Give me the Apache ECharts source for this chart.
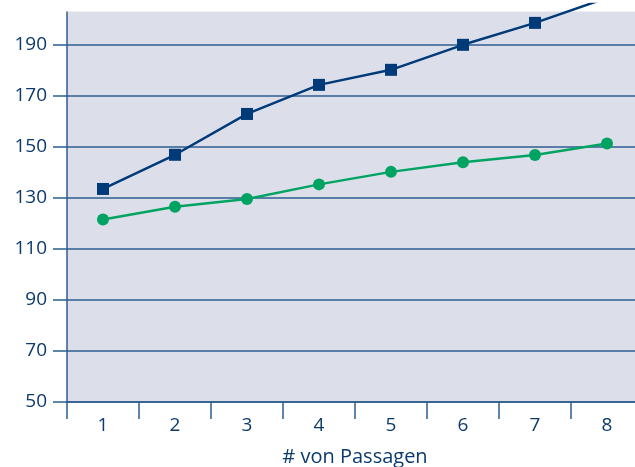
<!DOCTYPE html>
<html><head><meta charset="utf-8">
<script src="https://cdn.jsdelivr.net/npm/echarts@6/dist/echarts.min.js"></script>
<style>html,body{margin:0;padding:0;background:#fff}#c{width:635px;height:467px}</style>
</head><body><div id="c"></div>
<script>
const categories = ['1','2','3','4','5','6','7','8'];
const seriesBlue = [133.5, 146.9, 162.9, 174.3, 180.2, 190.0, 198.6, 208.4];
const seriesGreen = [121.5, 126.5, 129.6, 135.3, 140.2, 144.0, 146.8, 151.3];
const xName = '# von Passagen';

const textColor = '#0c3a6c';
const axisColor = '#2d5d8f';
const chart = echarts.init(document.getElementById('c'));
chart.setOption({
  animation: false,
  grid: { left: 67, top: 4, width: 576, height: 398, outerBoundsMode: 'none', containLabel: false,
          backgroundColor: '#dcdfea', show: true, borderWidth: 0 },
  graphic: [{ type: 'rect', z: 1, shape: { x: 0, y: 0, width: 635, height: 11.5 }, style: { fill: '#ffffff' } }],
  xAxis: {
    type: 'category', data: categories, boundaryGap: true,
    name: xName, nameLocation: 'middle', nameGap: 45,
    nameTextStyle: { color: textColor, fontSize: 20, fontFamily: 'Open Sans' },
    axisLine: { lineStyle: { color: axisColor, width: 1.5 } },
    axisTick: { show: true, length: 17, alignWithLabel: false, lineStyle: { color: axisColor, width: 1.5 } },
    axisLabel: { color: textColor, fontSize: 19, fontFamily: 'Open Sans', margin: 14 }
  },
  yAxis: {
    type: 'value', min: 50, max: 206, interval: 20,
    axisLine: { show: true, lineStyle: { color: axisColor, width: 1.5 } },
    axisTick: { show: true, length: 14, lineStyle: { color: axisColor, width: 1.5 } },
    axisLabel: { color: textColor, fontSize: 19, fontFamily: 'Open Sans', margin: 20, showMaxLabel: false },
    splitLine: { show: true, lineStyle: { color: axisColor, width: 1.5 } }
  },
  series: [
    { type: 'line', data: seriesBlue, symbol: 'rect', symbolSize: 12, clip: true,
      itemStyle: { color: '#003a78' }, lineStyle: { color: '#003a78', width: 2.5 }, z: 3 },
    { type: 'line', data: seriesGreen, symbol: 'circle', symbolSize: 12, clip: true,
      itemStyle: { color: '#00a362' }, lineStyle: { color: '#00a362', width: 2.5 }, z: 3 }
  ]
});
</script></body></html>
